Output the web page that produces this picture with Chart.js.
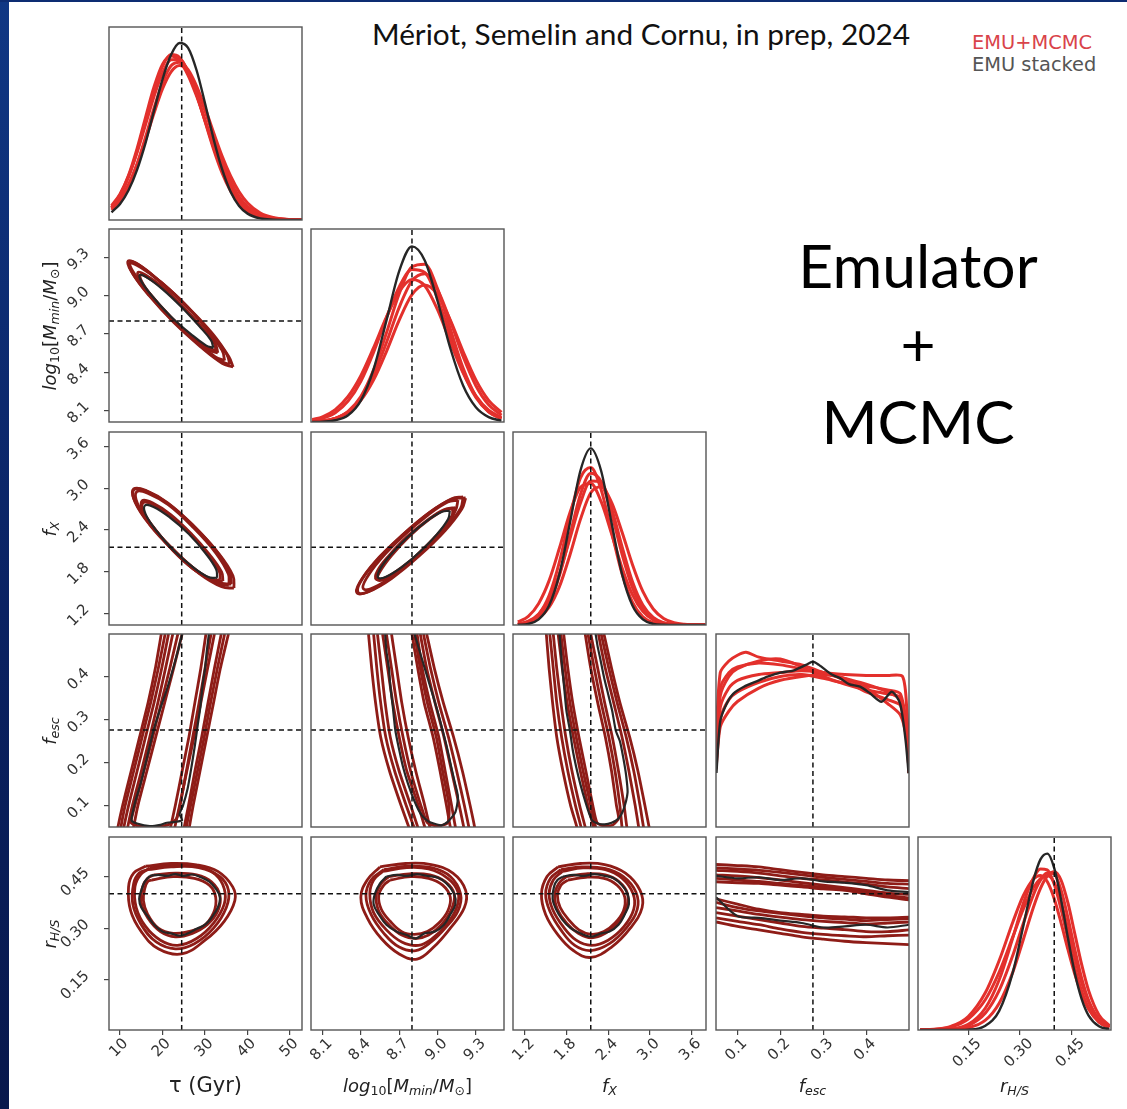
<!DOCTYPE html>
<html>
<head>
<meta charset="utf-8">
<script src="https://cdn.jsdelivr.net/npm/chart.js@4.4.1/dist/chart.umd.min.js"></script>
<style>
  body { margin: 0; background: #fff; }
  #slide { position: relative; width: 1127px; height: 1109px; overflow: hidden; background: #fff; font-family: 'DejaVu Sans', sans-serif; }
  #leftbar { position: absolute; left: 0; top: 0; width: 9px; height: 100%; background: linear-gradient(#103784, #0a2262 55%, #08184c); }
  #topbar { position: absolute; left: 0; top: 0; width: 100%; height: 2px; background: #0d2c72; }
  canvas { position: absolute; }
  .lbl { position: absolute; font-size: 18px; color: #222; white-space: nowrap; transform: translate(-50%, -50%); z-index: 5; }
  .ylbl { transform: translate(-50%, -50%) rotate(-90deg); }
  .lbl sub { font-size: 70%; vertical-align: -0.3em; line-height: 0; }
  #title { position: absolute; left: 641px; top: 33px; transform: translate(-50%, -50%); font-family: Lato, sans-serif; font-size: 29.8px; color: #111; white-space: nowrap; }
  #legend { position: absolute; left: 972px; top: 32px; font-family: 'DejaVu Sans', sans-serif; font-size: 19.4px; line-height: 22px; }
  #emu { position: absolute; left: 918px; top: 226px; transform: translateX(-50%); font-family: Lato, sans-serif; font-size: 60.5px; line-height: 78px; text-align: center; color: #000; }
</style>
</head>
<body>
<div id="slide">
  <div id="leftbar"></div>
  <div id="topbar"></div>
  <div id="title">Mériot, Semelin and Cornu, in prep, 2024</div>
  <div id="legend"><div style="color:#d9434a">EMU+MCMC</div><div style="color:#555">EMU stacked</div></div>
  <div id="emu">Emulator<br>+<br>MCMC</div>
</div>
<script>
// axis ranges, ticks and true values
const tauRange = [7.4, 52.8], massRange = [8.01, 9.52], fxRange = [1.03, 3.81], fescRange = [0.05, 0.5], rhsRange = [0.004, 0.565];
const tauTicks = [10, 20, 30, 40, 50], tauTickLabels = ['10', '20', '30', '40', '50'];
const massTicks = [8.1, 8.4, 8.7, 9.0, 9.3], massTickLabels = ['8.1', '8.4', '8.7', '9.0', '9.3'];
const fxTicks = [1.2, 1.8, 2.4, 3.0, 3.6], fxTickLabels = ['1.2', '1.8', '2.4', '3.0', '3.6'];
const fescTicks = [0.1, 0.2, 0.3, 0.4], fescTickLabels = ['0.1', '0.2', '0.3', '0.4'];
const rhsTicks = [0.15, 0.30, 0.45], rhsTickLabels = ['0.15', '0.30', '0.45'];
const truth = { tau: 24.5, mass: 8.80, fx: 2.15, fesc: 0.276, rhs: 0.40 };

// 1D marginals
const tauGrid = [8, 10, 12, 14, 16, 18, 20, 22, 24, 26, 28, 30, 32, 34, 36, 38, 40, 43, 46, 50, 53];
const tauBlack = [0.04, 0.083, 0.154, 0.26, 0.40, 0.567, 0.73, 0.856, 0.917, 0.892, 0.776, 0.604, 0.42, 0.263, 0.146, 0.073, 0.033, 0.008, 0.002, 0, 0];
const tauR1 = [0.066, 0.127, 0.223, 0.356, 0.513, 0.671, 0.797, 0.857, 0.842, 0.769, 0.653, 0.514, 0.377, 0.256, 0.163, 0.096, 0.052, 0.018, 0.006, 0.001, 0];
const tauR2 = [0.074, 0.135, 0.227, 0.35, 0.495, 0.641, 0.762, 0.83, 0.832, 0.766, 0.651, 0.51, 0.367, 0.244, 0.15, 0.084, 0.044, 0.014, 0.004, 0, 0];
const tauR3 = [0.052, 0.101, 0.18, 0.29, 0.43, 0.58, 0.712, 0.799, 0.818, 0.779, 0.694, 0.58, 0.453, 0.331, 0.228, 0.146, 0.088, 0.036, 0.013, 0.003, 0];
const tauR4 = [0.059, 0.108, 0.184, 0.288, 0.416, 0.554, 0.68, 0.768, 0.80, 0.77, 0.686, 0.565, 0.432, 0.305, 0.20, 0.121, 0.068, 0.025, 0.0075, 0.001, 0];
const tauR5 = [0.066, 0.131, 0.232, 0.37, 0.532, 0.69, 0.807, 0.85, 0.824, 0.75, 0.642, 0.516, 0.39, 0.276, 0.184, 0.115, 0.068, 0.027, 0.0095, 0.002, 0];

const massGrid = [8.02, 8.1, 8.2, 8.3, 8.4, 8.5, 8.6, 8.7, 8.8, 8.9, 9.0, 9.1, 9.2, 9.3, 9.4, 9.5];
const massBlack = [0, 0.002, 0.009, 0.035, 0.111, 0.274, 0.525, 0.782, 0.91, 0.837, 0.627, 0.382, 0.189, 0.076, 0.025, 0.007];
const massR1 = [0.002, 0.006, 0.019, 0.055, 0.132, 0.27, 0.461, 0.665, 0.804, 0.818, 0.69, 0.482, 0.279, 0.133, 0.052, 0.017];
const massR2 = [0.008, 0.019, 0.048, 0.108, 0.211, 0.362, 0.539, 0.70, 0.79, 0.775, 0.64, 0.445, 0.26, 0.127, 0.053, 0.018];
const massR3 = [0.002, 0.006, 0.019, 0.052, 0.122, 0.243, 0.411, 0.594, 0.731, 0.768, 0.686, 0.523, 0.339, 0.188, 0.089, 0.035];
const massR4 = [0.013, 0.027, 0.064, 0.132, 0.24, 0.385, 0.543, 0.675, 0.738, 0.706, 0.582, 0.414, 0.254, 0.135, 0.061, 0.024];
const massR5 = [0.002, 0.006, 0.019, 0.05, 0.112, 0.218, 0.365, 0.528, 0.66, 0.71, 0.66, 0.528, 0.365, 0.218, 0.112, 0.05];

const fxGrid = [1.1, 1.25, 1.4, 1.55, 1.7, 1.85, 2.0, 2.15, 2.3, 2.45, 2.6, 2.75, 2.9, 3.05, 3.2, 3.35, 3.5, 3.8];
const fxBlack = [0.001, 0.006, 0.029, 0.101, 0.265, 0.528, 0.798, 0.915, 0.798, 0.528, 0.265, 0.101, 0.029, 0.006, 0.001, 0, 0, 0];
const fxR1 = [0.004, 0.016, 0.055, 0.152, 0.328, 0.56, 0.761, 0.816, 0.70, 0.482, 0.266, 0.118, 0.042, 0.012, 0.003, 0, 0, 0];
const fxR2 = [0.003, 0.012, 0.04, 0.114, 0.257, 0.464, 0.675, 0.786, 0.742, 0.577, 0.368, 0.194, 0.084, 0.03, 0.009, 0.002, 0, 0];
const fxR3 = [0.006, 0.02, 0.057, 0.135, 0.268, 0.448, 0.631, 0.746, 0.739, 0.604, 0.407, 0.225, 0.103, 0.039, 0.012, 0.003, 0, 0];
const fxR4 = [0.016, 0.045, 0.112, 0.23, 0.40, 0.582, 0.712, 0.733, 0.639, 0.473, 0.297, 0.158, 0.071, 0.027, 0.009, 0.002, 0, 0];
const fxR5 = [0.003, 0.011, 0.035, 0.092, 0.20, 0.363, 0.546, 0.685, 0.716, 0.635, 0.482, 0.314, 0.174, 0.083, 0.034, 0.012, 0.004, 0];

const fescBlack = [[0.051, 0.28], [0.06, 0.55], [0.075, 0.64], [0.09, 0.69], [0.115, 0.727], [0.15, 0.76], [0.17, 0.779], [0.2, 0.80], [0.23, 0.81], [0.26, 0.84], [0.276, 0.857], [0.29, 0.84], [0.32, 0.79], [0.34, 0.77], [0.36, 0.74], [0.386, 0.727], [0.409, 0.693], [0.436, 0.649], [0.46, 0.701], [0.479, 0.641], [0.492, 0.45], [0.499, 0.278]];
const fescR1 = [[0.05, 0.45], [0.06, 0.80], [0.08, 0.86], [0.1, 0.89], [0.12, 0.905], [0.15, 0.88], [0.2, 0.86], [0.25, 0.84], [0.3, 0.80], [0.35, 0.77], [0.4, 0.74], [0.45, 0.70], [0.48, 0.66], [0.495, 0.5], [0.5, 0.3]];
const fescR2 = [[0.05, 0.40], [0.06, 0.72], [0.08, 0.80], [0.1, 0.83], [0.15, 0.85], [0.2, 0.84], [0.25, 0.82], [0.3, 0.80], [0.35, 0.79], [0.4, 0.785], [0.45, 0.785], [0.485, 0.78], [0.495, 0.6], [0.5, 0.3]];
const fescR3 = [[0.05, 0.30], [0.06, 0.52], [0.08, 0.60], [0.1, 0.65], [0.15, 0.72], [0.2, 0.76], [0.25, 0.78], [0.3, 0.79], [0.35, 0.77], [0.4, 0.72], [0.45, 0.64], [0.48, 0.58], [0.495, 0.45], [0.5, 0.28]];
const fescR4 = [[0.05, 0.35], [0.06, 0.62], [0.08, 0.72], [0.1, 0.76], [0.15, 0.79], [0.2, 0.80], [0.25, 0.81], [0.3, 0.80], [0.35, 0.76], [0.4, 0.70], [0.45, 0.66], [0.48, 0.63], [0.495, 0.45], [0.5, 0.28]];
const fescR5 = [[0.05, 0.38], [0.06, 0.68], [0.08, 0.78], [0.1, 0.82], [0.15, 0.86], [0.2, 0.87], [0.25, 0.83], [0.3, 0.78], [0.35, 0.74], [0.4, 0.71], [0.45, 0.69], [0.48, 0.67], [0.495, 0.5], [0.5, 0.3]];
const fescR6 = [[0.05, 0.32], [0.06, 0.56], [0.08, 0.66], [0.1, 0.70], [0.15, 0.75], [0.2, 0.78], [0.25, 0.79], [0.3, 0.77], [0.35, 0.745], [0.4, 0.73], [0.45, 0.71], [0.48, 0.69], [0.495, 0.5], [0.5, 0.28]];

const rhsGrid = [0.01, 0.05, 0.1, 0.15, 0.2, 0.24, 0.28, 0.31, 0.34, 0.36, 0.38, 0.40, 0.42, 0.44, 0.46, 0.48, 0.50, 0.53, 0.56];
const rhsBlack = [0, 0, 0, 0.002, 0.022, 0.099, 0.301, 0.538, 0.778, 0.884, 0.914, 0.839, 0.674, 0.475, 0.293, 0.159, 0.075, 0.019, 0.004];
const rhsR1 = [0, 0.001, 0.005, 0.029, 0.114, 0.26, 0.48, 0.655, 0.789, 0.834, 0.83, 0.755, 0.625, 0.47, 0.322, 0.201, 0.114, 0.041, 0.012];
const rhsR2 = [0, 0.001, 0.005, 0.023, 0.088, 0.205, 0.389, 0.552, 0.703, 0.776, 0.815, 0.809, 0.724, 0.58, 0.415, 0.266, 0.153, 0.054, 0.015];
const rhsR3 = [0.001, 0.003, 0.016, 0.057, 0.158, 0.30, 0.485, 0.626, 0.738, 0.784, 0.80, 0.763, 0.662, 0.522, 0.375, 0.245, 0.146, 0.056, 0.017];
const rhsR4 = [0, 0, 0.002, 0.011, 0.051, 0.139, 0.302, 0.468, 0.639, 0.734, 0.798, 0.82, 0.776, 0.657, 0.497, 0.337, 0.204, 0.078, 0.023];
const rhsR5 = [0.001, 0.004, 0.019, 0.07, 0.194, 0.36, 0.561, 0.696, 0.782, 0.80, 0.768, 0.68, 0.554, 0.416, 0.288, 0.184, 0.108, 0.042, 0.014];

// 2D contours (closed loops)
const tauMassRed = [
  [[35.85, 8.46], [35.09, 8.54], [31.33, 8.71], [25.56, 8.92], [19.33, 9.11], [14.34, 9.24], [11.89, 9.27], [12.65, 9.19], [16.41, 9.02], [22.18, 8.81], [28.41, 8.62], [33.40, 8.49]],
  [[34.6, 8.49], [34.0, 8.57], [30.5, 8.73], [25.0, 8.94], [19.0, 9.12], [14.4, 9.24], [12.4, 9.26], [13.0, 9.19], [16.6, 9.03], [22.0, 8.83], [27.8, 8.65], [32.4, 8.52]],
  [[36.6, 8.44], [35.6, 8.52], [31.8, 8.70], [25.9, 8.91], [19.8, 9.10], [14.8, 9.22], [12.3, 9.25], [13.0, 9.17], [16.8, 9.00], [22.6, 8.79], [28.9, 8.60], [34.0, 8.47]],
  [[32.6, 8.57], [32.0, 8.64], [29.0, 8.76], [24.6, 8.92], [19.8, 9.07], [16.0, 9.16], [14.2, 9.18], [14.8, 9.11], [17.7, 8.98], [22.1, 8.82], [26.8, 8.68], [30.7, 8.59]],
  [[33.0, 8.55], [32.4, 8.62], [29.4, 8.74], [25.0, 8.90], [20.3, 9.05], [16.5, 9.14], [14.8, 9.16], [15.4, 9.09], [18.3, 8.96], [22.6, 8.80], [27.3, 8.66], [31.2, 8.57]]
];
const tauMassBlack = [
  [[31.94, 8.59], [31.37, 8.65], [28.62, 8.76], [24.44, 8.91], [19.96, 9.05], [16.36, 9.14], [14.62, 9.16], [15.19, 9.10], [17.94, 8.98], [22.12, 8.83], [26.6, 8.70], [30.2, 8.61]]
];
const tauFxRed = [
  [[36.81, 1.56], [36.56, 1.74], [33.21, 2.06], [27.69, 2.43], [21.45, 2.77], [16.18, 2.96], [13.29, 2.98], [13.54, 2.80], [16.89, 2.48], [22.41, 2.11], [28.65, 1.77], [33.92, 1.58]],
  [[35.6, 1.60], [35.5, 1.76], [32.5, 2.07], [27.3, 2.43], [21.4, 2.76], [16.5, 2.93], [13.9, 2.95], [14.1, 2.78], [17.2, 2.47], [22.5, 2.12], [28.3, 1.80], [33.2, 1.62]],
  [[36.2, 1.62], [35.8, 1.79], [32.6, 2.10], [27.3, 2.46], [21.2, 2.79], [16.0, 2.97], [13.2, 2.99], [13.3, 2.84], [16.4, 2.53], [21.8, 2.16], [27.9, 1.82], [33.2, 1.64]],
  [[33.6, 1.68], [33.3, 1.81], [30.6, 2.05], [26.4, 2.35], [21.7, 2.61], [17.6, 2.77], [15.4, 2.79], [15.6, 2.65], [18.2, 2.41], [22.4, 2.11], [27.2, 1.84], [31.4, 1.69]],
  [[34.2, 1.66], [33.9, 1.79], [31.1, 2.04], [26.8, 2.34], [21.9, 2.62], [17.6, 2.79], [15.2, 2.82], [15.4, 2.67], [18.1, 2.42], [22.5, 2.10], [27.6, 1.82], [32.0, 1.67]]
];
const tauFxBlack = [
  [[32.83, 1.71], [32.62, 1.83], [30.15, 2.06], [26.18, 2.34], [21.68, 2.58], [17.89, 2.73], [15.85, 2.75], [16.06, 2.62], [18.53, 2.39], [22.50, 2.11], [27.00, 1.87], [30.79, 1.72]]
];
const massFxRed = [
  [[9.20, 2.875], [9.18, 2.71], [9.055, 2.41], [8.858, 2.05], [8.644, 1.72], [8.469, 1.52], [8.38, 1.497], [8.40, 1.66], [8.525, 1.96], [8.722, 2.32], [8.936, 2.65], [9.111, 2.85]],
  [[9.16, 2.83], [9.14, 2.68], [9.03, 2.40], [8.85, 2.06], [8.66, 1.75], [8.50, 1.57], [8.42, 1.55], [8.44, 1.69], [8.55, 1.97], [8.73, 2.31], [8.93, 2.62], [9.08, 2.80]],
  [[9.22, 2.86], [9.19, 2.70], [9.06, 2.39], [8.86, 2.03], [8.64, 1.70], [8.46, 1.51], [8.37, 1.49], [8.39, 1.64], [8.51, 1.94], [8.71, 2.30], [8.93, 2.64], [9.11, 2.84]],
  [[9.12, 2.70], [9.11, 2.58], [9.02, 2.36], [8.88, 2.10], [8.72, 1.86], [8.59, 1.71], [8.52, 1.69], [8.53, 1.81], [8.62, 2.03], [8.76, 2.30], [8.92, 2.54], [9.05, 2.69]],
  [[9.14, 2.72], [9.12, 2.60], [9.03, 2.37], [8.89, 2.10], [8.73, 1.85], [8.60, 1.70], [8.53, 1.68], [8.55, 1.80], [8.64, 2.03], [8.78, 2.31], [8.94, 2.56], [9.07, 2.70]]
];
const massFxBlack = [
  [[9.096, 2.674], [9.084, 2.559], [9.0, 2.346], [8.867, 2.092], [8.72, 1.864], [8.598, 1.726], [8.536, 1.712], [8.548, 1.827], [8.632, 2.04], [8.765, 2.294], [8.912, 2.522], [9.034, 2.66]]
];
const tauRhsRed = [
  [[16, 0.48], [22, 0.488], [28, 0.484], [33, 0.465], [36.5, 0.42], [37, 0.38], [34.5, 0.32], [30, 0.265], [24.5, 0.225], [19, 0.24], [15, 0.29], [12.5, 0.35], [12, 0.42], [13.2, 0.46]],
  [[16.5, 0.47], [22, 0.478], [28.5, 0.476], [33.5, 0.45], [35.5, 0.41], [35, 0.36], [32, 0.30], [27.5, 0.255], [23, 0.24], [18.5, 0.26], [15, 0.31], [13, 0.37], [13.2, 0.43], [14.5, 0.46]],
  [[17, 0.475], [23, 0.485], [29, 0.478], [32.5, 0.455], [34.5, 0.415], [34.5, 0.37], [32, 0.315], [28, 0.27], [23.5, 0.25], [19.5, 0.265], [16, 0.305], [13.8, 0.36], [13.5, 0.42], [14.8, 0.455]],
  [[18, 0.455], [23, 0.46], [28, 0.455], [31.5, 0.435], [33.5, 0.395], [33, 0.35], [30.5, 0.31], [27, 0.285], [23, 0.275], [19.5, 0.29], [16.5, 0.33], [15, 0.375], [15.3, 0.42], [16.5, 0.445]],
  [[17.5, 0.44], [22.5, 0.45], [27.5, 0.445], [31, 0.425], [32.5, 0.39], [32, 0.345], [29.5, 0.305], [26, 0.29], [22.5, 0.285], [19, 0.30], [16.5, 0.34], [15.5, 0.38], [15.8, 0.415], [16.5, 0.435]]
];
const tauRhsBlack = [
  [[17, 0.452], [19, 0.455], [21, 0.452], [23, 0.457], [25, 0.452], [27, 0.456], [29, 0.448], [31, 0.435], [32.5, 0.415], [33.5, 0.39], [33, 0.36], [31.5, 0.33], [30, 0.31], [28, 0.298], [26, 0.285], [24, 0.278], [22, 0.285], [20, 0.29], [18, 0.31], [16.5, 0.335], [15, 0.36], [14.5, 0.385], [15, 0.41], [15.8, 0.435]]
];
const massRhsRed = [
  [[8.55, 0.478], [8.75, 0.488], [8.95, 0.485], [9.12, 0.46], [9.22, 0.41], [9.21, 0.36], [9.10, 0.30], [8.97, 0.245], [8.84, 0.21], [8.70, 0.225], [8.56, 0.27], [8.45, 0.33], [8.40, 0.39], [8.45, 0.44]],
  [[8.58, 0.47], [8.77, 0.48], [8.96, 0.475], [9.10, 0.45], [9.18, 0.40], [9.16, 0.35], [9.06, 0.30], [8.95, 0.26], [8.83, 0.235], [8.70, 0.245], [8.58, 0.285], [8.48, 0.34], [8.44, 0.395], [8.48, 0.44]],
  [[8.57, 0.465], [8.76, 0.476], [8.93, 0.472], [9.08, 0.445], [9.16, 0.405], [9.15, 0.36], [9.07, 0.31], [8.96, 0.27], [8.85, 0.25], [8.72, 0.26], [8.60, 0.295], [8.50, 0.345], [8.47, 0.40], [8.50, 0.44]],
  [[8.62, 0.45], [8.78, 0.458], [8.94, 0.455], [9.06, 0.435], [9.13, 0.40], [9.11, 0.355], [9.03, 0.31], [8.93, 0.28], [8.83, 0.27], [8.72, 0.28], [8.62, 0.31], [8.54, 0.35], [8.52, 0.395], [8.56, 0.43]],
  [[8.63, 0.44], [8.79, 0.45], [8.93, 0.445], [9.04, 0.425], [9.10, 0.39], [9.08, 0.35], [9.01, 0.315], [8.92, 0.29], [8.82, 0.282], [8.72, 0.29], [8.63, 0.32], [8.56, 0.355], [8.54, 0.395], [8.58, 0.425]]
];
const massRhsBlack = [
  [[8.60, 0.45], [8.68, 0.455], [8.76, 0.452], [8.84, 0.457], [8.92, 0.452], [9.0, 0.447], [9.07, 0.43], [9.13, 0.40], [9.14, 0.37], [9.10, 0.34], [9.05, 0.31], [8.98, 0.29], [8.90, 0.285], [8.83, 0.27], [8.76, 0.28], [8.68, 0.29], [8.60, 0.31], [8.54, 0.34], [8.50, 0.37], [8.51, 0.40], [8.55, 0.43]]
];
const fxRhsRed = [
  [[1.68, 0.478], [2.0, 0.488], [2.35, 0.485], [2.65, 0.46], [2.86, 0.41], [2.89, 0.36], [2.72, 0.30], [2.45, 0.245], [2.15, 0.215], [1.90, 0.235], [1.68, 0.28], [1.50, 0.34], [1.44, 0.40], [1.52, 0.45]],
  [[1.72, 0.47], [2.02, 0.478], [2.35, 0.474], [2.62, 0.45], [2.80, 0.405], [2.82, 0.355], [2.66, 0.30], [2.42, 0.255], [2.15, 0.235], [1.92, 0.25], [1.72, 0.295], [1.56, 0.35], [1.50, 0.40], [1.57, 0.445]],
  [[1.74, 0.465], [2.04, 0.475], [2.36, 0.47], [2.60, 0.445], [2.76, 0.40], [2.77, 0.355], [2.63, 0.305], [2.40, 0.265], [2.16, 0.25], [1.94, 0.265], [1.75, 0.305], [1.60, 0.355], [1.55, 0.40], [1.61, 0.44]],
  [[1.80, 0.45], [2.08, 0.458], [2.36, 0.455], [2.56, 0.435], [2.68, 0.40], [2.66, 0.355], [2.54, 0.315], [2.36, 0.285], [2.16, 0.272], [1.97, 0.285], [1.80, 0.315], [1.67, 0.355], [1.63, 0.395], [1.69, 0.43]],
  [[1.82, 0.44], [2.08, 0.448], [2.34, 0.445], [2.53, 0.425], [2.64, 0.39], [2.62, 0.35], [2.50, 0.315], [2.34, 0.29], [2.16, 0.282], [1.98, 0.295], [1.83, 0.325], [1.71, 0.36], [1.67, 0.395], [1.72, 0.425]]
];
const fxRhsBlack = [
  [[1.75, 0.45], [1.90, 0.455], [2.05, 0.452], [2.20, 0.457], [2.35, 0.452], [2.48, 0.445], [2.60, 0.425], [2.68, 0.40], [2.70, 0.37], [2.64, 0.34], [2.55, 0.31], [2.42, 0.29], [2.30, 0.285], [2.15, 0.275], [2.0, 0.285], [1.86, 0.30], [1.74, 0.325], [1.65, 0.355], [1.60, 0.385], [1.62, 0.42], [1.67, 0.44]]
];

// open contours cut by the fesc prior edges
const tauFescRed = [
  [[19.7, 0.5], [18.3, 0.42], [16.6, 0.34], [14.6, 0.26], [12.6, 0.18], [10.6, 0.10], [9.5, 0.05], [9.2, 0.03], [26.0, 0.03], [26.3, 0.05], [27.2, 0.10], [28.8, 0.18], [30.4, 0.26], [32.0, 0.34], [33.6, 0.42], [35.5, 0.5]],
  [[20.6, 0.5], [19.0, 0.42], [17.2, 0.34], [15.2, 0.26], [13.2, 0.18], [11.2, 0.10], [10.2, 0.05], [9.9, 0.03], [25.3, 0.03], [25.6, 0.05], [26.6, 0.10], [28.2, 0.18], [29.8, 0.26], [31.3, 0.34], [32.9, 0.42], [34.6, 0.5]],
  [[21.4, 0.5], [19.8, 0.42], [18.0, 0.34], [16.0, 0.26], [14.0, 0.18], [12.0, 0.10], [10.9, 0.05], [10.6, 0.03], [24.8, 0.03], [25.1, 0.05], [26.1, 0.10], [27.6, 0.18], [29.2, 0.26], [30.7, 0.34], [32.2, 0.42], [33.8, 0.5]],
  [[24.6, 0.5], [22.6, 0.42], [20.5, 0.34], [18.4, 0.26], [16.3, 0.18], [14.2, 0.10], [13.2, 0.05], [12.9, 0.03], [21.5, 0.03], [21.9, 0.05], [23.0, 0.10], [24.6, 0.18], [26.2, 0.26], [27.6, 0.34], [29.0, 0.42], [30.2, 0.5]],
  [[23.6, 0.5], [21.7, 0.42], [19.7, 0.34], [17.7, 0.26], [15.6, 0.18], [13.5, 0.10], [12.6, 0.06], [14.5, 0.052], [18.0, 0.05], [21.5, 0.056], [23.3, 0.07], [24.1, 0.10], [25.6, 0.18], [27.1, 0.26], [28.6, 0.34], [30.0, 0.42], [31.4, 0.5]],
  [[22.4, 0.5], [20.7, 0.42], [18.9, 0.34], [17.0, 0.26], [15.0, 0.18], [12.9, 0.10], [11.8, 0.05], [11.5, 0.03], [22.5, 0.03], [22.9, 0.05], [24.0, 0.10], [25.7, 0.18], [27.4, 0.26], [29.0, 0.34], [30.6, 0.42], [32.2, 0.5]]
];
const tauFescBlack = [
  [[24.6, 0.5], [23.6, 0.46], [22.5, 0.42], [21.0, 0.37], [19.6, 0.33], [18.0, 0.28], [17.0, 0.24], [15.8, 0.19], [14.8, 0.15], [13.6, 0.11], [12.9, 0.08], [12.7, 0.065], [14.0, 0.058], [17.0, 0.052], [19.5, 0.055], [21.0, 0.06], [23.0, 0.062], [24.6, 0.066], [24.0, 0.08], [24.8, 0.1], [25.9, 0.14], [26.8, 0.19], [27.6, 0.24], [28.3, 0.29], [28.9, 0.33], [29.4, 0.38], [30.0, 0.42], [30.4, 0.46], [30.9, 0.5]]
];
const massFescRed = [
  [[8.46, 0.5], [8.485, 0.42], [8.515, 0.34], [8.555, 0.26], [8.625, 0.18], [8.715, 0.10], [8.775, 0.05], [8.80, 0.03], [9.30, 0.03], [9.29, 0.05], [9.255, 0.10], [9.195, 0.18], [9.125, 0.26], [9.045, 0.34], [8.975, 0.42], [8.915, 0.5]],
  [[8.50, 0.5], [8.525, 0.42], [8.555, 0.34], [8.595, 0.26], [8.665, 0.18], [8.755, 0.10], [8.815, 0.05], [8.84, 0.03], [9.26, 0.03], [9.245, 0.05], [9.21, 0.10], [9.15, 0.18], [9.085, 0.26], [9.01, 0.34], [8.945, 0.42], [8.89, 0.5]],
  [[8.53, 0.5], [8.56, 0.42], [8.59, 0.34], [8.63, 0.26], [8.70, 0.18], [8.79, 0.10], [8.845, 0.05], [8.87, 0.03], [9.22, 0.03], [9.205, 0.05], [9.17, 0.10], [9.11, 0.18], [9.05, 0.26], [8.98, 0.34], [8.915, 0.42], [8.865, 0.5]],
  [[8.60, 0.5], [8.64, 0.42], [8.68, 0.34], [8.73, 0.26], [8.79, 0.18], [8.87, 0.10], [8.92, 0.06], [9.0, 0.052], [9.08, 0.06], [9.09, 0.10], [9.04, 0.18], [8.99, 0.26], [8.92, 0.34], [8.865, 0.42], [8.82, 0.5]],
  [[8.64, 0.5], [8.68, 0.42], [8.72, 0.34], [8.77, 0.26], [8.83, 0.18], [8.90, 0.10], [8.94, 0.05], [8.96, 0.03], [9.12, 0.03], [9.10, 0.05], [9.07, 0.10], [9.02, 0.18], [8.965, 0.26], [8.895, 0.34], [8.845, 0.42], [8.80, 0.5]],
  [[8.57, 0.5], [8.61, 0.42], [8.65, 0.34], [8.70, 0.26], [8.76, 0.18], [8.85, 0.10], [8.90, 0.05], [8.92, 0.03], [9.16, 0.03], [9.14, 0.05], [9.11, 0.10], [9.06, 0.18], [9.01, 0.26], [8.94, 0.34], [8.88, 0.42], [8.84, 0.5]]
];
const massFescBlack = [
  [[8.59, 0.5], [8.60, 0.46], [8.62, 0.42], [8.63, 0.38], [8.65, 0.33], [8.67, 0.275], [8.70, 0.23], [8.73, 0.19], [8.77, 0.15], [8.82, 0.11], [8.87, 0.08], [8.92, 0.065], [8.97, 0.058], [9.03, 0.054], [9.08, 0.062], [9.14, 0.085], [9.16, 0.12], [9.13, 0.16], [9.10, 0.20], [9.07, 0.24], [9.04, 0.275], [9.0, 0.32], [8.96, 0.36], [8.92, 0.40], [8.88, 0.44], [8.85, 0.47], [8.82, 0.5]]
];
const fxFescRed = [
  [[1.51, 0.5], [1.55, 0.42], [1.60, 0.34], [1.66, 0.26], [1.75, 0.18], [1.86, 0.10], [1.95, 0.05], [1.98, 0.03], [3.02, 0.03], [2.99, 0.05], [2.93, 0.10], [2.83, 0.18], [2.71, 0.26], [2.57, 0.34], [2.45, 0.42], [2.34, 0.5]],
  [[1.56, 0.5], [1.61, 0.42], [1.66, 0.34], [1.73, 0.26], [1.82, 0.18], [1.93, 0.10], [2.01, 0.05], [2.04, 0.03], [2.94, 0.03], [2.91, 0.05], [2.86, 0.10], [2.77, 0.18], [2.66, 0.26], [2.53, 0.34], [2.41, 0.42], [2.30, 0.5]],
  [[1.61, 0.5], [1.66, 0.42], [1.72, 0.34], [1.79, 0.26], [1.88, 0.18], [1.99, 0.10], [2.07, 0.05], [2.10, 0.03], [2.86, 0.03], [2.84, 0.05], [2.79, 0.10], [2.70, 0.18], [2.60, 0.26], [2.48, 0.34], [2.36, 0.42], [2.26, 0.5]],
  [[1.76, 0.5], [1.82, 0.42], [1.89, 0.34], [1.98, 0.26], [2.08, 0.18], [2.18, 0.10], [2.24, 0.06], [2.35, 0.052], [2.47, 0.055], [2.55, 0.07], [2.52, 0.10], [2.45, 0.18], [2.36, 0.26], [2.25, 0.34], [2.15, 0.42], [2.07, 0.5]],
  [[1.72, 0.5], [1.78, 0.42], [1.85, 0.34], [1.94, 0.26], [2.04, 0.18], [2.15, 0.10], [2.22, 0.05], [2.25, 0.03], [2.62, 0.03], [2.60, 0.05], [2.57, 0.10], [2.50, 0.18], [2.41, 0.26], [2.30, 0.34], [2.20, 0.42], [2.11, 0.5]],
  [[1.68, 0.5], [1.74, 0.42], [1.81, 0.34], [1.90, 0.26], [2.0, 0.18], [2.11, 0.10], [2.19, 0.05], [2.22, 0.03], [2.70, 0.03], [2.67, 0.05], [2.63, 0.10], [2.55, 0.18], [2.46, 0.26], [2.35, 0.34], [2.25, 0.42], [2.15, 0.5]]
];
const fxFescBlack = [
  [[1.70, 0.5], [1.72, 0.46], [1.74, 0.42], [1.77, 0.37], [1.80, 0.32], [1.85, 0.275], [1.89, 0.23], [1.94, 0.19], [2.00, 0.15], [2.07, 0.11], [2.13, 0.08], [2.17, 0.065], [2.25, 0.058], [2.35, 0.056], [2.45, 0.06], [2.55, 0.07], [2.62, 0.09], [2.68, 0.13], [2.66, 0.17], [2.62, 0.21], [2.57, 0.25], [2.51, 0.275], [2.46, 0.32], [2.40, 0.36], [2.34, 0.40], [2.29, 0.44], [2.25, 0.47], [2.22, 0.5]]
];

// fesc vs r_H/S : contour edges sampled on a fesc grid
const fescLineGrid = [0.05, 0.1, 0.15, 0.2, 0.25, 0.3, 0.35, 0.4, 0.45, 0.5];
const fescRhsRed = [
  [0.485, 0.482, 0.478, 0.47, 0.462, 0.455, 0.45, 0.445, 0.44, 0.438],
  [0.475, 0.472, 0.468, 0.462, 0.455, 0.448, 0.442, 0.436, 0.43, 0.428],
  [0.468, 0.465, 0.46, 0.452, 0.445, 0.44, 0.434, 0.428, 0.42, 0.415],
  [0.455, 0.452, 0.447, 0.44, 0.432, 0.425, 0.418, 0.41, 0.402, 0.398],
  [0.445, 0.44, 0.436, 0.43, 0.424, 0.42, 0.415, 0.405, 0.395, 0.388],
  [0.435, 0.432, 0.43, 0.425, 0.42, 0.414, 0.41, 0.40, 0.39, 0.382],
  [0.385, 0.37, 0.355, 0.345, 0.34, 0.335, 0.333, 0.33, 0.33, 0.332],
  [0.375, 0.36, 0.35, 0.343, 0.336, 0.33, 0.326, 0.322, 0.325, 0.328],
  [0.36, 0.35, 0.34, 0.332, 0.325, 0.32, 0.316, 0.312, 0.315, 0.318],
  [0.345, 0.335, 0.325, 0.315, 0.305, 0.30, 0.296, 0.29, 0.29, 0.295],
  [0.33, 0.32, 0.31, 0.298, 0.288, 0.282, 0.278, 0.275, 0.278, 0.28],
  [0.318, 0.305, 0.295, 0.285, 0.275, 0.268, 0.262, 0.258, 0.255, 0.252]
];
const fescRhsBlack = [
  [0.452, 0.445, 0.448, 0.44, 0.445, 0.436, 0.432, 0.425, 0.41, 0.405],
  [0.39, 0.335, 0.33, 0.322, 0.315, 0.302, 0.305, 0.31, 0.302, 0.31]
];

const COL_LEFT = [109, 311, 513, 716, 918];
const ROW_TOP = [27, 229, 432, 634, 837];
const SIZE = 193, PAD_L = 70, PAD_T = 4, PAD_R = 4, PAD_B = 60;
const RED = '#e3302c', DARKRED = '#8e1c17', BLACK = '#262626';

const axes = {
  tau:  { range: tauRange,  ticks: tauTicks,  labels: tauTickLabels,  offset: 5.8 },
  mass: { range: massRange, ticks: massTicks, labels: massTickLabels, offset: 7.4 },
  fx:   { range: fxRange,   ticks: fxTicks,   labels: fxTickLabels,   offset: 7.4 },
  fesc: { range: fescRange, ticks: fescTicks, labels: fescTickLabels, offset: 7.4 },
  rhs:  { range: rhsRange,  ticks: rhsTicks,  labels: rhsTickLabels,  offset: 10.8 },
  dens: { range: [0, 1], ticks: [], labels: [], offset: 0 }
};

const pairsToPts = list => list.map(p => ({ x: p[0], y: p[1] }));
const gridToPts = (grid, vals) => grid.map((g, i) => ({ x: g, y: vals[i] }));
const loop = list => pairsToPts(list.concat([list[0]]));

const panels = [
  { r: 0, c: 0, x: 'tau',  y: 'dens', red: [tauR1, tauR2, tauR3, tauR4, tauR5].map(v => gridToPts(tauGrid, v)), black: [gridToPts(tauGrid, tauBlack)], hist: true },
  { r: 1, c: 0, x: 'tau',  y: 'mass', red: tauMassRed.map(loop), black: tauMassBlack.map(loop) },
  { r: 1, c: 1, x: 'mass', y: 'dens', red: [massR1, massR2, massR3, massR4, massR5].map(v => gridToPts(massGrid, v)), black: [gridToPts(massGrid, massBlack)], hist: true },
  { r: 2, c: 0, x: 'tau',  y: 'fx',   red: tauFxRed.map(loop), black: tauFxBlack.map(loop) },
  { r: 2, c: 1, x: 'mass', y: 'fx',   red: massFxRed.map(loop), black: massFxBlack.map(loop) },
  { r: 2, c: 2, x: 'fx',   y: 'dens', red: [fxR1, fxR2, fxR3, fxR4, fxR5].map(v => gridToPts(fxGrid, v)), black: [gridToPts(fxGrid, fxBlack)], hist: true },
  { r: 3, c: 0, x: 'tau',  y: 'fesc', red: tauFescRed.map(pairsToPts), black: tauFescBlack.map(pairsToPts), tension: 0.2 },
  { r: 3, c: 1, x: 'mass', y: 'fesc', red: massFescRed.map(pairsToPts), black: massFescBlack.map(pairsToPts), tension: 0.2 },
  { r: 3, c: 2, x: 'fx',   y: 'fesc', red: fxFescRed.map(pairsToPts), black: fxFescBlack.map(pairsToPts), tension: 0.2 },
  { r: 3, c: 3, x: 'fesc', y: 'dens', red: [fescR1, fescR2, fescR3, fescR4, fescR5, fescR6].map(pairsToPts), black: [pairsToPts(fescBlack)], hist: true, tension: 0.25 },
  { r: 4, c: 0, x: 'tau',  y: 'rhs',  red: tauRhsRed.map(loop), black: tauRhsBlack.map(loop) },
  { r: 4, c: 1, x: 'mass', y: 'rhs',  red: massRhsRed.map(loop), black: massRhsBlack.map(loop) },
  { r: 4, c: 2, x: 'fx',   y: 'rhs',  red: fxRhsRed.map(loop), black: fxRhsBlack.map(loop) },
  { r: 4, c: 3, x: 'fesc', y: 'rhs',  red: fescRhsRed.map(v => gridToPts(fescLineGrid, v)), black: fescRhsBlack.map(v => gridToPts(fescLineGrid, v)), tension: 0.3 },
  { r: 4, c: 4, x: 'rhs',  y: 'dens', red: [rhsR1, rhsR2, rhsR3, rhsR4, rhsR5].map(v => gridToPts(rhsGrid, v)), black: [gridToPts(rhsGrid, rhsBlack)], hist: true }
];

const framePlugin = {
  id: 'frame',
  afterDatasetsDraw(chart) {
    const a = chart.chartArea, ctx = chart.ctx;
    ctx.save();
    ctx.strokeStyle = '#555';
    ctx.lineWidth = 1.4;
    ctx.strokeRect(a.left, a.top, a.right - a.left, a.bottom - a.top);
    ctx.restore();
  }
};

function axisOpts(a, show, dir) {
  return {
    type: 'linear', min: a.range[0], max: a.range[1],
    afterBuildTicks: s => { s.ticks = a.ticks.map(v => ({ value: v })); },
    afterFit: s => {
      if (dir === 'x') s.height = PAD_B; else s.width = PAD_L;
      s.paddingLeft = s.paddingRight = s.paddingTop = s.paddingBottom = 0;
    },
    grid: { display: show, drawOnChartArea: false, drawTicks: true, tickLength: 5, color: '#444', lineWidth: 1.2 },
    border: { display: false },
    ticks: {
      display: show, autoSkip: false, minRotation: 45, maxRotation: 45,
      padding: dir === 'x' ? 0 : 17, labelOffset: dir === 'x' ? a.offset : -6,
      font: { family: 'DejaVu Sans', size: 15 }, color: '#333',
      callback: (v, i) => a.labels[i]
    }
  };
}

function line(data, color, width, extra) {
  return Object.assign({ data, borderColor: color, borderWidth: width, pointRadius: 0, showLine: true, fill: false, clip: 0 }, extra || {});
}

const slide = document.getElementById('slide');
panels.forEach(p => {
  const xa = axes[p.x], ya = axes[p.y];
  const cv = document.createElement('canvas');
  cv.width = PAD_L + SIZE + PAD_R;
  cv.height = PAD_T + SIZE + PAD_B;
  cv.style.left = (COL_LEFT[p.c] - PAD_L) + 'px';
  cv.style.top = (ROW_TOP[p.r] - PAD_T) + 'px';
  slide.appendChild(cv);

  const dash = { borderDash: [5, 3.5], tension: 0 };
  const sets = [line([{ x: truth[p.x], y: ya.range[0] }, { x: truth[p.x], y: ya.range[1] }], '#111', 1.5, dash)];
  if (!p.hist) sets.push(line([{ x: xa.range[0], y: truth[p.y] }, { x: xa.range[1], y: truth[p.y] }], '#111', 1.5, dash));
  const curve = p.hist
    ? (p.tension ? { tension: p.tension } : { cubicInterpolationMode: 'monotone' })
    : { tension: p.tension || 0.4 };
  p.black.forEach(d => sets.push(line(d, BLACK, p.hist ? 2.4 : 2.2, curve)));
  p.red.forEach(d => sets.push(line(d, p.hist ? RED : DARKRED, p.hist ? 3 : 2.8, curve)));

  new Chart(cv, {
    type: 'scatter',
    data: { datasets: sets },
    options: {
      responsive: false, animation: false, devicePixelRatio: 1, events: [],
      layout: { padding: { left: 0, top: PAD_T, right: PAD_R, bottom: 0 } },
      plugins: { legend: { display: false }, tooltip: { enabled: false } },
      scales: {
        x: axisOpts(xa, p.r === 4, 'x'),
        y: axisOpts(ya, p.c === 0 && p.r > 0, 'y')
      }
    },
    plugins: [framePlugin]
  });
});

// axis titles
const xTitles = ['τ (Gyr)', '<i>log</i><sub>10</sub>[<i>M<sub>min</sub></i>/<i>M</i><sub>⊙</sub>]', '<i>f<sub>X</sub></i>', '<i>f<sub>esc</sub></i>', '<i>r<sub>H/S</sub></i>'];
const yTitles = [null, xTitles[1], xTitles[2], xTitles[3], xTitles[4]];
xTitles.forEach((t, i) => {
  const d = document.createElement('div');
  d.className = 'lbl';
  d.innerHTML = t;
  if (i === 0) d.style.fontSize = '21px';
  d.style.left = (COL_LEFT[i] + SIZE / 2) + 'px';
  d.style.top = '1085px';
  slide.appendChild(d);
});
yTitles.forEach((t, i) => {
  if (!t) return;
  const d = document.createElement('div');
  d.className = 'lbl ylbl';
  d.innerHTML = t;
  d.style.left = '49px';
  d.style.top = (ROW_TOP[i] + SIZE / 2) + 'px';
  slide.appendChild(d);
});
</script>
</body>
</html>
